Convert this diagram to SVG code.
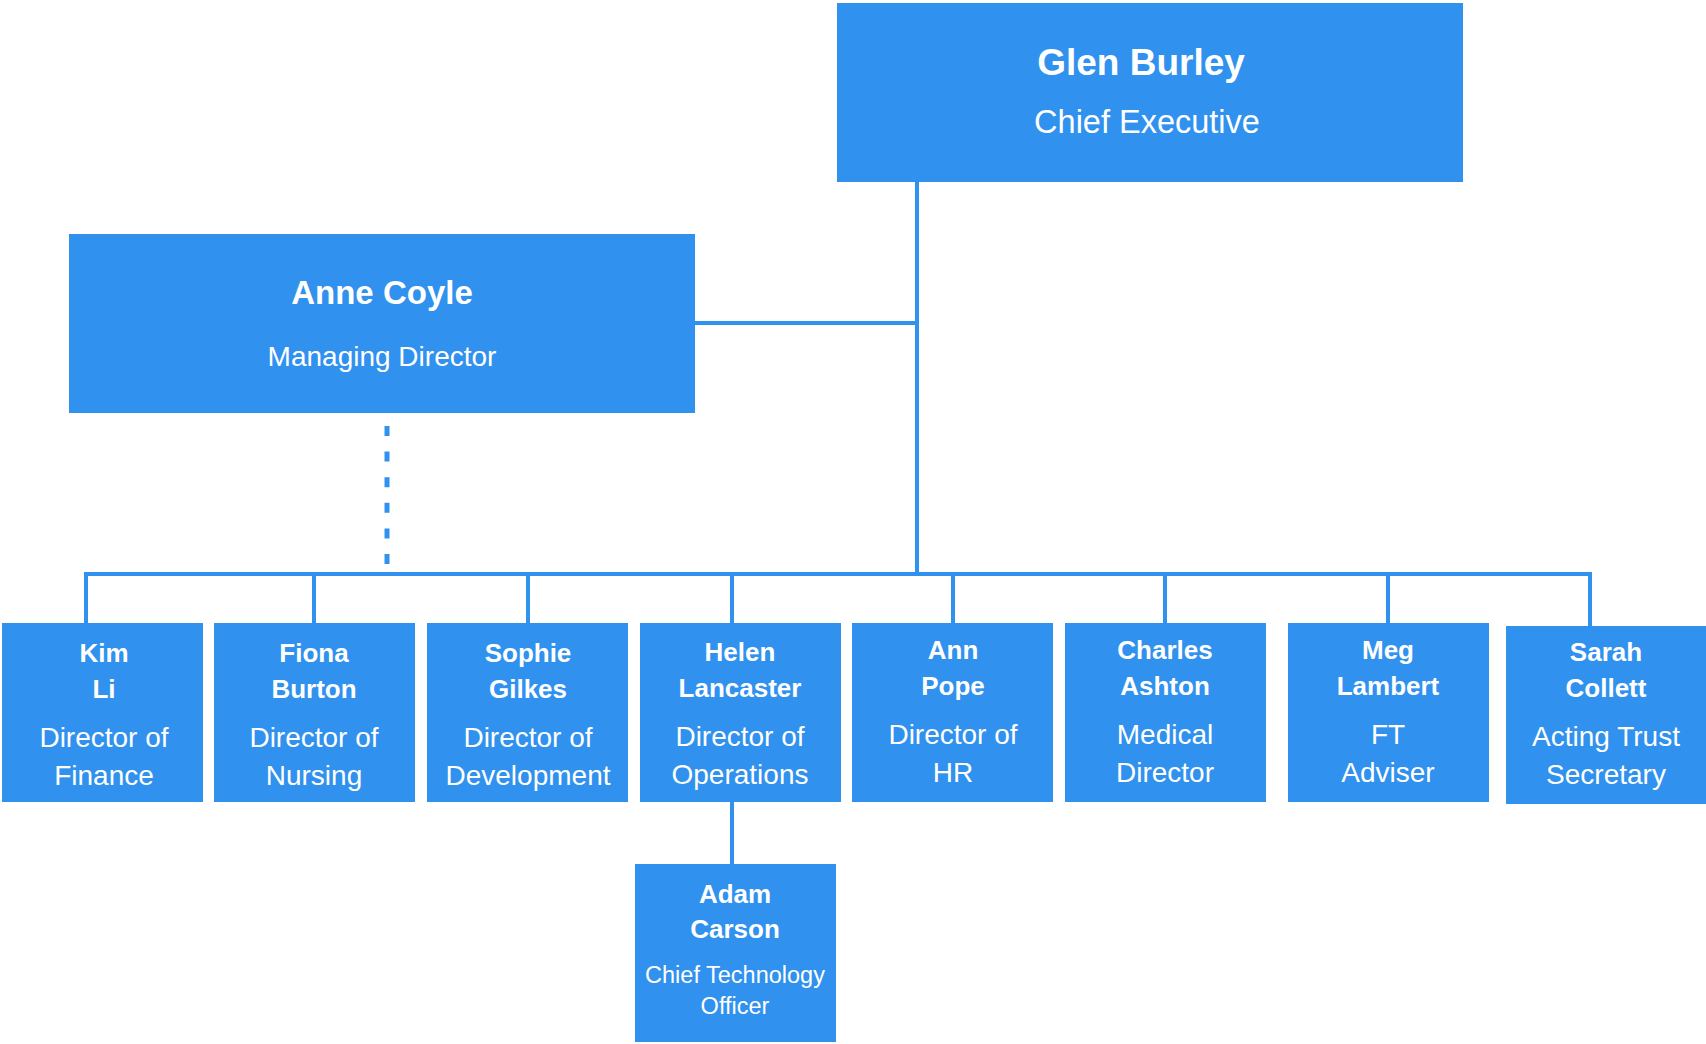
<svg xmlns="http://www.w3.org/2000/svg" width="1706" height="1044" viewBox="0 0 1706 1044">
  <style>
    .box { fill: #3091EE; }
    .name { font-family: "Liberation Sans", Arial, sans-serif; font-weight: bold; fill: #FFFFFF; text-anchor: middle; }
    .role { font-family: "Liberation Sans", Arial, sans-serif; fill: #FFFFFF; text-anchor: middle; }
    .link { stroke: #3091EE; stroke-width: 4; fill: none; }
    .dotted { stroke: #3091EE; stroke-width: 5; fill: none; stroke-dasharray: 10 15.6; }
  </style>
  <rect width="1706" height="1044" fill="#FFFFFF"/>

  <!-- connectors -->
  <g id="connectors">
    <line class="link" x1="917" y1="182" x2="917" y2="574"/>
    <line class="link" x1="695" y1="323" x2="919" y2="323"/>
    <line class="dotted" x1="387" y1="426" x2="387" y2="564"/>
    <line class="link" x1="84" y1="574" x2="1592" y2="574"/>
    <line class="link" x1="86" y1="572" x2="86" y2="623"/>
    <line class="link" x1="314" y1="574" x2="314" y2="623"/>
    <line class="link" x1="528" y1="574" x2="528" y2="623"/>
    <line class="link" x1="732" y1="574" x2="732" y2="623"/>
    <line class="link" x1="953" y1="574" x2="953" y2="623"/>
    <line class="link" x1="1165" y1="574" x2="1165" y2="623"/>
    <line class="link" x1="1388" y1="574" x2="1388" y2="623"/>
    <line class="link" x1="1590" y1="572" x2="1590" y2="626"/>
    <line class="link" x1="732" y1="802" x2="732" y2="864"/>
  </g>

  <!-- top level -->
  <g id="glen-burley">
    <rect class="box" x="837" y="3" width="626" height="179"/>
    <text class="name" x="1141" y="75" font-size="37">Glen Burley</text>
    <text class="role" x="1147" y="133" font-size="32.5">Chief Executive</text>
  </g>

  <g id="anne-coyle">
    <rect class="box" x="69" y="234" width="626" height="179"/>
    <text class="name" x="382" y="304" font-size="33">Anne Coyle</text>
    <text class="role" x="382" y="366" font-size="28">Managing Director</text>
  </g>

  <!-- directors -->
  <g id="kim-li">
    <rect class="box" x="2" y="623" width="201" height="179"/>
    <text class="name" x="104" y="662" font-size="26">Kim</text>
    <text class="name" x="104" y="698" font-size="26">Li</text>
    <text class="role" x="104" y="747" font-size="28">Director of</text>
    <text class="role" x="104" y="785" font-size="28">Finance</text>
  </g>

  <g id="fiona-burton">
    <rect class="box" x="214" y="623" width="201" height="179"/>
    <text class="name" x="314" y="662" font-size="26">Fiona</text>
    <text class="name" x="314" y="698" font-size="26">Burton</text>
    <text class="role" x="314" y="747" font-size="28">Director of</text>
    <text class="role" x="314" y="785" font-size="28">Nursing</text>
  </g>

  <g id="sophie-gilkes">
    <rect class="box" x="427" y="623" width="201" height="179"/>
    <text class="name" x="528" y="662" font-size="26">Sophie</text>
    <text class="name" x="528" y="698" font-size="26">Gilkes</text>
    <text class="role" x="528" y="747" font-size="28">Director of</text>
    <text class="role" x="528" y="785" font-size="28">Development</text>
  </g>

  <g id="helen-lancaster">
    <rect class="box" x="640" y="623" width="201" height="179"/>
    <text class="name" x="740" y="661" font-size="26">Helen</text>
    <text class="name" x="740" y="697" font-size="26">Lancaster</text>
    <text class="role" x="740" y="746" font-size="28">Director of</text>
    <text class="role" x="740" y="784" font-size="28">Operations</text>
  </g>

  <g id="ann-pope">
    <rect class="box" x="852" y="623" width="201" height="179"/>
    <text class="name" x="953" y="659" font-size="26">Ann</text>
    <text class="name" x="953" y="695" font-size="26">Pope</text>
    <text class="role" x="953" y="744" font-size="28">Director of</text>
    <text class="role" x="953" y="782" font-size="28">HR</text>
  </g>

  <g id="charles-ashton">
    <rect class="box" x="1065" y="623" width="201" height="179"/>
    <text class="name" x="1165" y="659" font-size="26">Charles</text>
    <text class="name" x="1165" y="695" font-size="26">Ashton</text>
    <text class="role" x="1165" y="744" font-size="28">Medical</text>
    <text class="role" x="1165" y="782" font-size="28">Director</text>
  </g>

  <g id="meg-lambert">
    <rect class="box" x="1288" y="623" width="201" height="179"/>
    <text class="name" x="1388" y="659" font-size="26">Meg</text>
    <text class="name" x="1388" y="695" font-size="26">Lambert</text>
    <text class="role" x="1388" y="744" font-size="28">FT</text>
    <text class="role" x="1388" y="782" font-size="28">Adviser</text>
  </g>

  <g id="sarah-collett">
    <rect class="box" x="1506" y="626" width="200" height="178"/>
    <text class="name" x="1606" y="661" font-size="26">Sarah</text>
    <text class="name" x="1606" y="697" font-size="26">Collett</text>
    <text class="role" x="1606" y="746" font-size="28">Acting Trust</text>
    <text class="role" x="1606" y="784" font-size="28">Secretary</text>
  </g>

  <!-- reports to Helen Lancaster -->
  <g id="adam-carson">
    <rect class="box" x="635" y="864" width="201" height="178"/>
    <text class="name" x="735" y="903" font-size="26">Adam</text>
    <text class="name" x="735" y="938" font-size="26">Carson</text>
    <text class="role" x="735" y="983" font-size="23.5">Chief Technology</text>
    <text class="role" x="735" y="1014" font-size="23.5">Officer</text>
  </g>
</svg>
